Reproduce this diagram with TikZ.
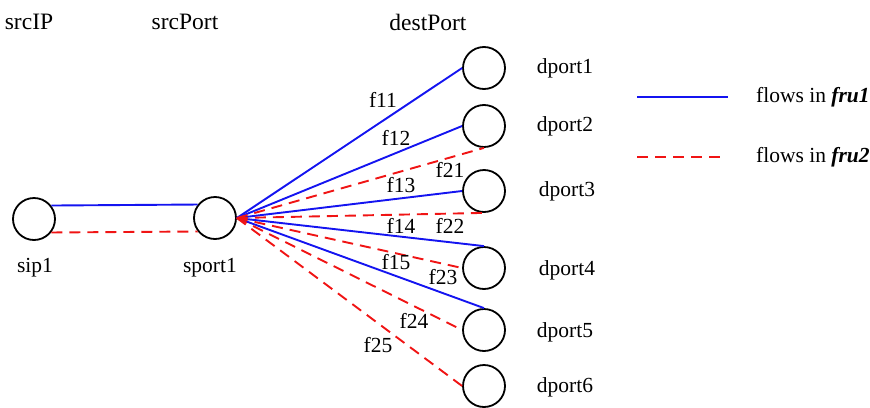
\documentclass[tikz,border=0pt]{standalone}
\usepackage{fontspec}
\setmainfont{Liberation Serif}
\begin{document}
\begin{tikzpicture}[x=1pt,y=-1pt,
  port/.style={draw=black,circle,line width=1.8pt,minimum size=42pt,inner sep=0pt},
  head/.style={inner sep=0pt,font=\fontsize{23.5}{27}\selectfont},
  lbl/.style={inner sep=0pt,font=\fontsize{21.5}{25}\selectfont},
  fruone/.style={draw={rgb,255:red,20;green,20;blue,240},line width=1.9pt},
  frutwo/.style={draw={rgb,255:red,240;green,20;blue,20},line width=1.9pt,dash pattern=on 11pt off 7pt}]
\useasboundingbox (0,0) rectangle (870,407);

% column headings
\node[head] (hIP)   at (29,22)  {srcIP};
\node[head] (hSP)   at (185,22) {srcPort};
\node[head] (hDP)   at (428,22) {destPort};

% source ip and source port
\node[port] (sip1)  at (34,219)  {};
\node[port] (sport1) at (215,218) {};
\node[lbl] (tsip)   at (35,268)  {sip1};
\node[lbl] (tsport) at (210,268) {sport1};

% destination ports
\node[port] (d1) at (484,68)  {};
\node[port] (d2) at (484,126) {};
\node[port] (d3) at (484,191) {};
\node[port] (d4) at (484,268) {};
\node[port] (d5) at (484,330) {};
\node[port] (d6) at (484,386) {};
\node[lbl] (t1) at (565,68)  {dport1};
\node[lbl] (t2) at (565,126) {dport2};
\node[lbl] (t3) at (567,191) {dport3};
\node[lbl] (t4) at (567,270) {dport4};
\node[lbl] (t5) at (565,332) {dport5};
\node[lbl] (t6) at (565,387) {dport6};

% links between sip1 and sport1
\draw[fruone] (sip1.38)  -- (sport1.142);
\draw[frutwo] (sip1.-38) -- (sport1.-142);

% flows of fru1
\draw[fruone] (sport1.east) -- (d1.west);
\draw[fruone] (sport1.east) -- (d2.west);
\draw[fruone] (sport1.east) -- (d3.west);
\draw[fruone] (sport1.east) -- (d4.north);
\draw[fruone] (sport1.east) -- (d5.north);

% flows of fru2
\draw[frutwo] (sport1.east) -- (d2.south);
\draw[frutwo] (sport1.east) -- (d3.south);
\draw[frutwo] (sport1.east) -- (d4.west);
\draw[frutwo] (sport1.east) -- (d5.west);
\draw[frutwo] (sport1.east) -- (d6.west);

% flow labels
\node[lbl] (f11) at (383,100) {f11};
\node[lbl] (f12) at (396,138) {f12};
\node[lbl] (f21) at (450,170) {f21};
\node[lbl] (f13) at (401,185) {f13};
\node[lbl] (f14) at (401,226) {f14};
\node[lbl] (f22) at (450,226) {f22};
\node[lbl] (f15) at (396,262) {f15};
\node[lbl] (f23) at (443,277) {f23};
\node[lbl] (f24) at (414,321) {f24};
\node[lbl] (f25) at (378,345) {f25};

% legend
\coordinate (la1) at (637,97);
\coordinate (la2) at (728,97);
\coordinate (lb1) at (637,157);
\coordinate (lb2) at (724,157);
\draw[fruone] (la1) -- (la2);
\draw[frutwo] (lb1) -- (lb2);
\node[lbl,anchor=west] (leg1) at (756,97)  {flows in \textbf{\textit{fru1}}};
\node[lbl,anchor=west] (leg2) at (756,157) {flows in \textbf{\textit{fru2}}};
\end{tikzpicture}
\end{document}
